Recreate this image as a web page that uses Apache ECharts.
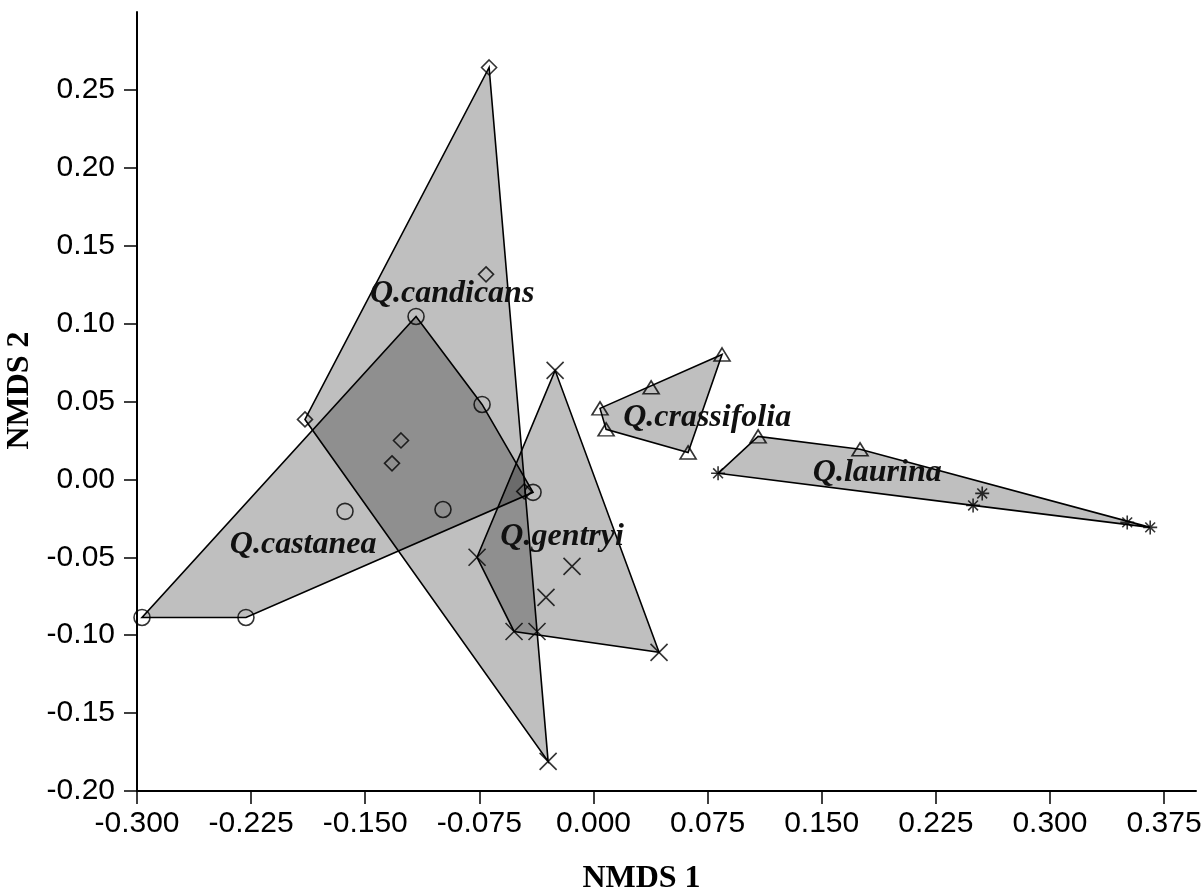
<!DOCTYPE html>
<html>
<head>
<meta charset="utf-8">
<title>NMDS ordination of Quercus samples</title>
<script src="https://cdn.jsdelivr.net/npm/echarts@6/dist/echarts.min.js"></script>
<style>
  html, body { margin: 0; padding: 0; background: #fff; }
  #chart { width: 1204px; height: 895px; }
</style>
</head>
<body>
<div id="chart"></div>
<script>
// NMDS scores per species: [NMDS1, NMDS2, group code the sample was plotted with]
const candicans = [
  [-0.0686,  0.2644, 'cand'],
  [-0.0706,  0.1316, 'cand'],
  [-0.1896,  0.0385, 'cand'],
  [-0.1265,  0.0250, 'cand'],
  [-0.1324,  0.0103, 'cand'],
  [-0.0455, -0.0077, 'cand'],
  [-0.0298, -0.1810, 'gent']
];
const castanea = [
  [-0.1166,  0.1046, 'cast'],
  [-0.0732,  0.0481, 'cast'],
  [-0.0397, -0.0083, 'cast'],
  [-0.1633, -0.0205, 'cast'],
  [-0.0989, -0.0193, 'cast'],
  [-0.2967, -0.0886, 'cast'],
  [-0.2284, -0.0886, 'cast']
];
const gentryi = [
  [-0.0252,  0.0700, 'gent'],
  [-0.0765, -0.0500, 'gent'],
  [-0.0141, -0.0558, 'gent'],
  [-0.0312, -0.0757, 'gent'],
  [-0.0522, -0.0976, 'gent'],
  [-0.0371, -0.0976, 'gent'],
  [ 0.0431, -0.1110, 'gent']
];
const crassifolia = [
  [0.0043, 0.0456, 'cras'],
  [0.0083, 0.0321, 'cras'],
  [0.0379, 0.0591, 'cras'],
  [0.0845, 0.0802, 'cras'],
  [0.0622, 0.0173, 'cras']
];
const laurina = [
  [0.1082,  0.0276, 'cras'],
  [0.1752,  0.0193, 'cras'],
  [0.0819,  0.0039, 'laur'],
  [0.2555, -0.0090, 'laur'],
  [0.2495, -0.0167, 'laur'],
  [0.3508, -0.0276, 'laur'],
  [0.3659, -0.0308, 'laur']
];

// species name labels: [text, NMDS1, NMDS2]
const speciesLabels = [
  ['Q.candicans',   -0.0929,  0.1190],
  ['Q.castanea',    -0.1908, -0.0420],
  ['Q.gentryi',     -0.0206, -0.0365],
  ['Q.crassifolia',  0.0747,  0.0395],
  ['Q.laurina',      0.1865,  0.0040]
];

// axis ticks
const xTicks = [-0.300, -0.225, -0.150, -0.075, 0.000, 0.075, 0.150, 0.225, 0.300, 0.375];
const yTicks = [-0.20, -0.15, -0.10, -0.05, 0.00, 0.05, 0.10, 0.15, 0.20, 0.25];

const allSpecies = [candicans, castanea, gentryi, crassifolia, laurina];

// open symbols, one per group code
const crossPath = 'path://M0 0L10 10M10 0L0 10';
const starPath = 'path://M0 5L10 5M5 0L5 10M1.5 1.5L8.5 8.5M8.5 1.5L1.5 8.5';
const symbolStyle = {
  cand: { symbol: 'diamond', symbolSize: [15, 15] },
  cast: { symbol: 'circle', symbolSize: 16 },
  gent: { symbol: crossPath, symbolSize: [17, 17] },
  cras: { symbol: 'triangle', symbolSize: [16, 13] },
  laur: { symbol: starPath, symbolSize: [14, 14] }
};

// convex hull (monotone chain) of a species' samples
function convexHull(pts) {
  const p = pts.map(d => [d[0], d[1]]).sort((a, b) => a[0] - b[0] || a[1] - b[1]);
  const cross = (o, a, b) => (a[0] - o[0]) * (b[1] - o[1]) - (a[1] - o[1]) * (b[0] - o[0]);
  const lower = [];
  for (const q of p) {
    while (lower.length >= 2 && cross(lower[lower.length - 2], lower[lower.length - 1], q) <= 0) lower.pop();
    lower.push(q);
  }
  const upper = [];
  for (let i = p.length - 1; i >= 0; i--) {
    const q = p[i];
    while (upper.length >= 2 && cross(upper[upper.length - 2], upper[upper.length - 1], q) <= 0) upper.pop();
    upper.push(q);
  }
  upper.pop(); lower.pop();
  return lower.concat(upper);
}

const series = [];

allSpecies.forEach(sp => {
  const hull = convexHull(sp);
  series.push({
    type: 'custom',
    silent: true,
    z: 1,
    data: [hull[0]],
    renderItem: (params, api) => ({
      type: 'polygon',
      shape: { points: hull.map(v => api.coord(v)) },
      style: { fill: 'rgba(0,0,0,0.25)', stroke: '#000', lineWidth: 1.6 }
    })
  });
});

allSpecies.forEach(sp => {
  series.push({
    type: 'scatter',
    silent: true,
    z: 3,
    data: sp.map(d => Object.assign({ value: [d[0], d[1]] }, symbolStyle[d[2]])),
    itemStyle: { color: 'rgba(0,0,0,0)', borderColor: '#000', borderWidth: 1.6 }
  });
});

series.push({
  type: 'custom',
  silent: true,
  z: 5,
  data: speciesLabels.map(d => [d[1], d[2], d[0]]),
  renderItem: (params, api) => {
    const pt = api.coord([api.value(0), api.value(1)]);
    return {
      type: 'text',
      x: pt[0], y: pt[1],
      style: {
        text: speciesLabels[params.dataIndex][0],
        font: 'italic bold 32px "Liberation Serif", "Times New Roman", serif',
        fill: '#111',
        align: 'center',
        verticalAlign: 'middle'
      }
    };
  }
});

const chart = echarts.init(document.getElementById('chart'), null, { renderer: 'canvas' });
chart.setOption({
  animation: false,
  backgroundColor: '#fff',
  grid: { left: 137, right: 8, top: 12, bottom: 104, containLabel: false, outerBoundsMode: 'none' },
  xAxis: {
    type: 'value',
    min: -0.3, max: 0.396,
    interval: 0.075,
    name: 'NMDS 1',
    nameLocation: 'middle',
    nameGap: 72,
    nameTextStyle: {
      fontFamily: '"Liberation Serif", "Times New Roman", serif',
      fontWeight: 'bold', fontSize: 32, color: '#000',
      padding: [0, 50, 0, 0]
    },
    axisLine: { onZero: false, lineStyle: { color: '#000', width: 2 } },
    axisTick: { show: true, length: 13, lineStyle: { color: '#000', width: 1.5 }, customValues: xTicks },
    axisLabel: {
      customValues: xTicks,
      margin: 18,
      fontFamily: '"Liberation Sans", Arial, sans-serif',
      fontSize: 30, color: '#000',
      formatter: v => v.toFixed(3)
    },
    splitLine: { show: false }
  },
  yAxis: {
    type: 'value',
    min: -0.2, max: 0.3,
    interval: 0.05,
    name: 'NMDS 2',
    nameLocation: 'middle',
    nameGap: 98,
    nameTextStyle: {
      fontFamily: '"Liberation Serif", "Times New Roman", serif',
      fontWeight: 'bold', fontSize: 32, color: '#000',
      padding: [0, 0, 0, 22]
    },
    axisLine: { onZero: false, lineStyle: { color: '#000', width: 2 } },
    axisTick: { show: true, length: 13, lineStyle: { color: '#000', width: 1.5 }, customValues: yTicks },
    axisLabel: {
      customValues: yTicks,
      margin: 22,
      fontFamily: '"Liberation Sans", Arial, sans-serif',
      fontSize: 30, color: '#000',
      formatter: v => v.toFixed(2)
    },
    splitLine: { show: false }
  },
  series: series
});
</script>
</body>
</html>
